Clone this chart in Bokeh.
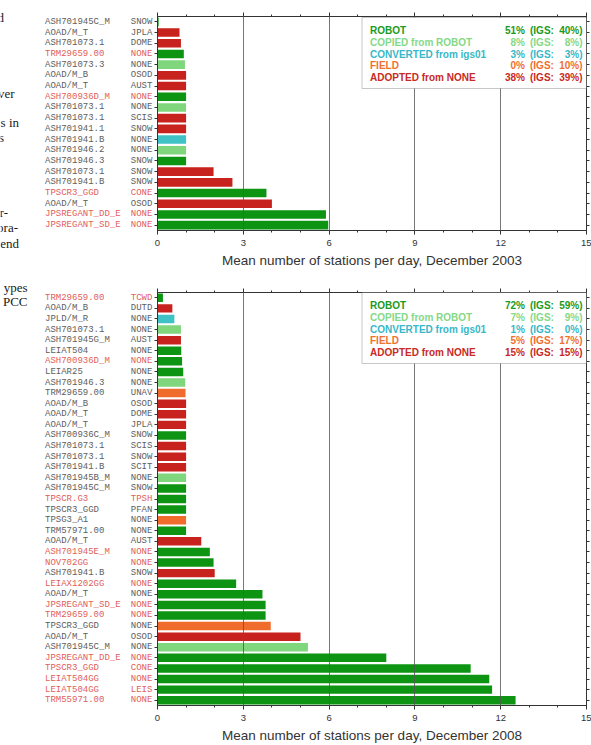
from bokeh.plotting import figure
from bokeh.models import (ColumnDataSource, Range1d, LinearAxis,
                          SingleIntervalTicker, FixedTicker, CustomJSTickFormatter,
                          Label, BoxAnnotation)
from bokeh.layouts import column, row
from bokeh.core.properties import value
from bokeh.embed import file_html
from bokeh.resources import INLINE

# ---- calibration sources (legend order) ----
cal_keys = ["ROBOT", "COPIED", "CONVERTED", "FIELD", "ADOPTED"]
cal_names = ["ROBOT", "COPIED from ROBOT", "CONVERTED from igs01", "FIELD", "ADOPTED from NONE"]
bar_colors = ["#0c9412", "#80d67c", "#3ec2c6", "#f06c2c", "#c8221e"]
text_colors = ["#1a9a22", "#86d886", "#38b8c8", "#f07030", "#c82a24"]

# ---- December 2003 ----
ant_2003 = ["ASH701945C_M", "AOAD/M_T", "ASH701073.1", "TRM29659.00", "ASH701073.3",
            "AOAD/M_B", "AOAD/M_T", "ASH700936D_M", "ASH701073.1", "ASH701073.1",
            "ASH701941.1", "ASH701941.B", "ASH701946.2", "ASH701946.3", "ASH701073.1",
            "ASH701941.B", "TPSCR3_GGD", "AOAD/M_T", "JPSREGANT_DD_E", "JPSREGANT_SD_E"]
dome_2003 = ["SNOW", "JPLA", "DOME", "NONE", "NONE", "OSOD", "AUST", "NONE", "NONE", "SCIS",
             "SNOW", "NONE", "NONE", "SNOW", "SNOW", "SNOW", "CONE", "OSOD", "NONE", "NONE"]
mean_2003 = [0.04, 0.77, 0.82, 0.92, 0.96, 1.0, 1.0, 1.0, 1.0, 1.0,
             1.0, 1.0, 1.0, 1.0, 1.96, 2.62, 3.81, 4.0, 5.89, 5.97]
cal_2003 = ["ROBOT", "ADOPTED", "ADOPTED", "ROBOT", "COPIED", "ADOPTED", "ADOPTED", "ROBOT",
            "COPIED", "ADOPTED", "ADOPTED", "CONVERTED", "COPIED", "ROBOT", "ADOPTED",
            "ADOPTED", "ROBOT", "ADOPTED", "ROBOT", "ROBOT"]
igs_abs_2003 = [0, 0, 0, 1, 0, 0, 0, 1, 0, 0, 0, 0, 0, 0, 0, 0, 1, 0, 1, 1]
pct_2003 = [51, 8, 3, 0, 38]
igs_pct_2003 = [40, 8, 3, 10, 39]

# ---- December 2008 ----
ant_2008 = ["TRM29659.00", "AOAD/M_B", "JPLD/M_R", "ASH701073.1", "ASH701945G_M", "LEIAT504",
            "ASH700936D_M", "LEIAR25", "ASH701946.3", "TRM29659.00", "AOAD/M_B", "AOAD/M_T",
            "AOAD/M_T", "ASH700936C_M", "ASH701073.1", "ASH701073.1", "ASH701941.B",
            "ASH701945B_M", "ASH701945C_M", "TPSCR.G3", "TPSCR3_GGD", "TPSG3_A1", "TRM57971.00",
            "AOAD/M_T", "ASH701945E_M", "NOV702GG", "ASH701941.B", "LEIAX1202GG", "AOAD/M_T",
            "JPSREGANT_SD_E", "TRM29659.00", "TPSCR3_GGD", "AOAD/M_T", "ASH701945C_M",
            "JPSREGANT_DD_E", "TPSCR3_GGD", "LEIAT504GG", "LEIAT504GG", "TRM55971.00"]
dome_2008 = ["TCWD", "DUTD", "NONE", "NONE", "AUST", "NONE", "NONE", "NONE", "NONE", "UNAV",
             "OSOD", "DOME", "JPLA", "SNOW", "SCIS", "SNOW", "SCIT", "NONE", "SNOW", "TPSH",
             "PFAN", "NONE", "NONE", "AUST", "NONE", "NONE", "SNOW", "NONE", "NONE", "NONE",
             "NONE", "NONE", "OSOD", "NONE", "NONE", "CONE", "NONE", "LEIS", "NONE"]
mean_2008 = [0.19, 0.52, 0.59, 0.82, 0.82, 0.83, 0.86, 0.90, 0.97, 0.98,
             1.0, 1.0, 1.0, 1.0, 1.0, 1.0, 1.0, 1.0, 1.0, 1.0,
             1.0, 1.0, 1.0, 1.53, 1.83, 1.96, 2.0, 2.75, 3.67, 3.78,
             3.78, 3.96, 5.0, 5.26, 8.0, 10.95, 11.6, 11.7, 12.52]
cal_2008 = ["ROBOT", "ADOPTED", "CONVERTED", "COPIED", "ADOPTED", "ROBOT", "ROBOT", "ROBOT",
            "COPIED", "FIELD", "ADOPTED", "ADOPTED", "ADOPTED", "ROBOT", "ADOPTED", "ADOPTED",
            "ADOPTED", "COPIED", "ROBOT", "ROBOT", "ROBOT", "FIELD", "ROBOT", "ADOPTED", "ROBOT",
            "ROBOT", "ADOPTED", "ROBOT", "ROBOT", "ROBOT", "ROBOT", "FIELD", "ADOPTED", "COPIED",
            "ROBOT", "ROBOT", "ROBOT", "ROBOT", "ROBOT"]
igs_abs_2008 = [1, 0, 0, 0, 0, 0, 1, 0, 0, 0, 0, 0, 0, 0, 0, 0, 0, 0, 0, 1,
                0, 0, 0, 0, 1, 1, 0, 1, 0, 1, 1, 0, 0, 0, 1, 1, 1, 1, 1]
pct_2008 = [72, 7, 1, 5, 15]
igs_pct_2008 = [59, 9, 0, 17, 15]

# line endings of the neighbouring text column on the page
margin_words = ["d", "ver", "s in", "s", "r-", "ora-", "end", "ypes", "PCC"]
margin_right = [3.5, 14, 18.5, 3.5, 7.5, 17.5, 18.5, 27, 27]
margin_y = [17, 93, 122, 137, 212, 227, 243, 287, 301]

PAGE_W, PAGE_H = 591, 745
MARGIN_W = 40          # strip holding the neighbouring text column
FRAME_LEFT = 157       # page x of the plot frame's left edge
AXIS_PAD = 4
LAB_W = FRAME_LEFT - MARGIN_W - AXIS_PAD
MAIN_W = PAGE_W - MARGIN_W - LAB_W
RIGHT_PAD = 5
ANT_X, DOME_X = 44.5, 130.3
GRAY_LABEL = "#5e5e5e"
ABS_LABEL = "#e0605a"
AXIS_COLOR = "#333333"


def empty_labels():
    return CustomJSTickFormatter(code="return ''")


def style_axis(ax, tick_out, minor_out=0):
    ax.axis_line_color = AXIS_COLOR
    ax.major_tick_line_color = AXIS_COLOR
    ax.minor_tick_line_color = AXIS_COLOR
    ax.major_tick_out = tick_out
    ax.major_tick_in = 0
    ax.minor_tick_out = minor_out
    ax.minor_tick_in = 0


def panel(ants, domes, means, cals, flags, pct, igs, title, height, top, bottom):
    n = len(ants)
    rows = list(range(n))            # station rows, first one on top
    color_of = dict(zip(cal_keys, bar_colors))
    src = ColumnDataSource(dict(
        row=rows, ant=ants, dome=domes, mean=means,
        color=[color_of[c] for c in cals],
        lab_color=[ABS_LABEL if f else GRAY_LABEL for f in flags],
    ))
    yr = Range1d(n - 0.5, -0.5)

    p = figure(width=MAIN_W, height=height, y_range=yr, x_range=Range1d(0, 15),
               output_backend="svg", toolbar_location=None, y_axis_location=None,
               min_border_left=AXIS_PAD, min_border_right=RIGHT_PAD,
               min_border_top=top, min_border_bottom=bottom)
    p.hbar(y="row", left=0, right="mean", height=0.8, fill_color="color",
           line_color=None, source=src)

    frame_h = height - top - bottom
    frame_w = MAIN_W - AXIS_PAD - RIGHT_PAD

    ticker = SingleIntervalTicker(interval=3, num_minor_ticks=3)
    p.xaxis.ticker = ticker
    p.xgrid.ticker = ticker
    p.xgrid.grid_line_color = "#555555"
    p.xgrid.grid_line_alpha = 0.8
    p.xgrid.level = "overlay"
    p.ygrid.visible = False
    p.outline_line_color = AXIS_COLOR
    p.outline_line_alpha = 1

    xa = p.xaxis[0]
    xa.axis_label = title
    xa.axis_label_text_font = "Liberation Sans"
    xa.axis_label_text_font_size = "13.5px"
    xa.axis_label_text_font_style = "normal"
    xa.axis_label_text_color = AXIS_COLOR
    xa.axis_label_standoff = 4
    xa.major_label_text_font = "Liberation Sans"
    xa.major_label_text_font_size = "9.5px"
    xa.major_label_text_color = AXIS_COLOR
    xa.major_label_standoff = 5
    style_axis(xa, 4, 2)

    top_axis = LinearAxis(ticker=ticker, formatter=empty_labels(), major_label_standoff=0)
    style_axis(top_axis, 4, 2)
    p.add_layout(top_axis, "above")

    # one tick per station row on both vertical sides
    row_ticks = FixedTicker(ticks=rows, minor_ticks=[])
    for side in ["left", "right"]:
        ax = LinearAxis(ticker=row_ticks, formatter=empty_labels(), major_label_standoff=0)
        style_axis(ax, 3)
        p.add_layout(ax, side)

    # legend (frame-relative screen units, origin bottom-left)
    def sx(x):
        return x - FRAME_LEFT

    def sy(y_from_frame_top):
        return frame_h - y_from_frame_top

    p.add_layout(BoxAnnotation(left=sx(361.5), right=frame_w, top=sy(1), bottom=sy(72),
                               left_units="screen", right_units="screen",
                               top_units="screen", bottom_units="screen",
                               fill_color="white", fill_alpha=1, line_color="#444444",
                               line_width=1, level="overlay"))
    for i, (name, c) in enumerate(zip(cal_names, text_colors)):
        common = dict(y=sy(14.2 + 11.7 * i), x_units="screen", y_units="screen",
                      text_color=c, text_font="Liberation Sans", text_font_size="10px",
                      text_font_style="bold", text_baseline="middle", level="overlay")
        p.add_layout(Label(x=sx(369.5), text=name, text_align="left", **common))
        p.add_layout(Label(x=sx(524.5), text=f"{pct[i]}%", text_align="right", **common))
        p.add_layout(Label(x=sx(529.5), text="(IGS:", text_align="left", **common))
        p.add_layout(Label(x=sx(582), text=f"{igs[i]}%)", text_align="right", **common))

    # antenna / radome name columns, sharing the station axis
    lab = figure(width=LAB_W, height=height, y_range=yr,
                 x_range=Range1d(MARGIN_W, MARGIN_W + LAB_W),
                 output_backend="svg", toolbar_location=None,
                 x_axis_location=None, y_axis_location=None,
                 min_border_left=0, min_border_right=0,
                 min_border_top=top, min_border_bottom=bottom)
    lab.outline_line_color = None
    lab.xgrid.visible = False
    lab.ygrid.visible = False
    for field, x0 in [("ant", ANT_X), ("dome", DOME_X)]:
        lab.text(x=x0, y="row", text=field, source=src, text_align="left",
                 text_baseline="middle", text_font=value("Liberation Mono"),
                 text_font_size=value("9px"), text_color="lab_color")
    return row(lab, p, spacing=0)


TOP_H = 275
panel_2003 = panel(ant_2003, dome_2003, mean_2003, cal_2003, igs_abs_2003, pct_2003,
                   igs_pct_2003, "Mean number of stations per day, December 2003", TOP_H, 16, 45)
panel_2008 = panel(ant_2008, dome_2008, mean_2008, cal_2008, igs_abs_2008, pct_2008,
                   igs_pct_2008, "Mean number of stations per day, December 2008",
                   PAGE_H - TOP_H, 17, 39)

# neighbouring text column, cut by the page edge
margin = figure(width=MARGIN_W, height=PAGE_H, x_range=Range1d(0, MARGIN_W),
                y_range=Range1d(PAGE_H, 0), output_backend="svg", toolbar_location=None,
                x_axis_location=None, y_axis_location=None, min_border=0)
margin.outline_line_color = None
margin.xgrid.visible = False
margin.ygrid.visible = False
margin.text(x=margin_right, y=margin_y, text=margin_words, text_align="right",
            text_baseline="middle", text_font=value("Liberation Serif"),
            text_font_size=value("13px"), text_color="#1a1a1a")

layout = row(margin, column(panel_2003, panel_2008, spacing=0), spacing=0)
open("out.html", "w").write(file_html(layout, INLINE))
